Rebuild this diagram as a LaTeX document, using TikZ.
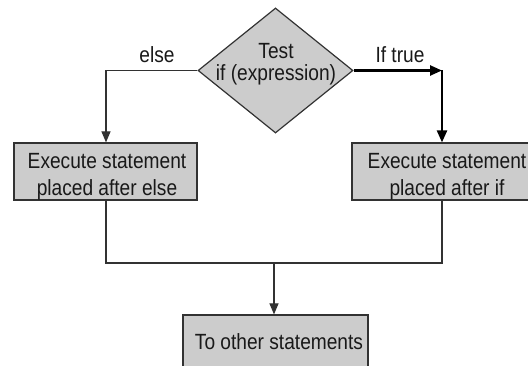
\documentclass[tikz,border=0pt]{standalone}
\usepackage{fontspec}
\setmainfont{Liberation Sans}[FakeStretch=0.87]
\usetikzlibrary{shapes.geometric,arrows.meta}
\definecolor{boxfill}{RGB}{204,204,204}
\definecolor{edge}{RGB}{50,50,50}
\tikzset{
  shapebox/.style={draw=edge,line width=1.2pt,fill=boxfill,inner sep=0pt},
  txt/.style={inner sep=0pt,align=center,font=\fontsize{22}{27}\selectfont,text=black!90},
  thinline/.style={draw=edge,line width=1.2pt},
  thinarrow/.style={thinline,-{Triangle[length=11pt,width=9pt]}},
  thickarrow/.style={draw=black,line width=2.4pt,-{Triangle[length=12pt,width=10pt]}},
}
\begin{document}
\begin{tikzpicture}[x=1pt,y=-1pt]
\useasboundingbox (0,0) rectangle (528,366);
% decision
\node[shapebox,shape=diamond,minimum width=155pt,minimum height=125pt] (dia) at (275.5,70.5) {};
\node[txt,anchor=north,font=\fontsize{22}{22}\selectfont] (diatext) at (276,43) {Test\\if (expression)};
% boxes
\node[shapebox,minimum width=183pt,minimum height=57pt] (elsebox) at (105.5,171.5) {};
\node[txt,anchor=north] (elsetext) at (107,153.5) {Execute statement\\placed after else};
\node[shapebox,minimum width=190pt,minimum height=57pt] (ifbox) at (447,171.5) {};
\node[txt,anchor=north] (iftext) at (447,153.5) {Execute statement\\placed after if};
\node[shapebox,minimum width=185pt,minimum height=70pt] (endbox) at (275.5,350) {};
\node[txt,anchor=base] (endtext) at (279,350) {To other statements};
% labels
\node[txt,anchor=base] (elselabel) at (157,63) {else};
\node[txt,anchor=base] (truelabel) at (400,63) {If true};
% connectors
\coordinate (corner) at (442,70.5);
\coordinate (join) at (274,263);
\draw[thinarrow] (dia.west) -| (elsebox.north -| 106,0);
\draw[thickarrow] (dia.east) -- (corner);
\draw[thickarrow] (corner) -- (corner |- ifbox.north);
\draw[thinline] (elsebox.south -| 106,0) |- (join) -| (corner |- ifbox.south);
\draw[thinarrow] (join) -- (join |- endbox.north);
\end{tikzpicture}
\end{document}
